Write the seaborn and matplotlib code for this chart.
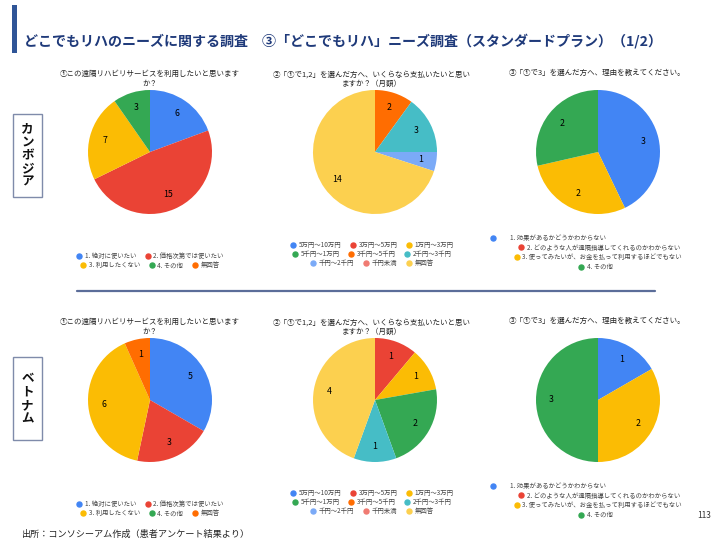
import matplotlib
matplotlib.use("Agg")
import matplotlib.pyplot as plt
from matplotlib.lines import Line2D
from matplotlib.patches import Rectangle
import seaborn as sns

sns.set_theme(style="white")
plt.rcParams['font.family'] = ['Noto Sans CJK JP', 'DejaVu Sans']

# ---- data ----
q1_labels = ["1. 絶対に使いたい", "2. 価格次第では使いたい", "3. 利用したくない", "4. その他", "無回答"]
q1_colors = ["#4285F4", "#EA4335", "#FBBC04", "#34A853", "#FF6D01"]
cambodia_q1 = [6, 15, 7, 3, 0]
vietnam_q1 = [5, 3, 6, 0, 1]

q2_labels = ["5万円～10万円", "3万円～5万円", "1万円～3万円", "5千円～1万円", "3千円～5千円",
             "2千円～3千円", "千円～2千円", "千円未満", "無回答"]
q2_colors = ["#4285F4", "#EA4335", "#FBBC04", "#34A853", "#FF6D01",
             "#46BDC6", "#7BAAF7", "#F07B72", "#FCD04F"]
cambodia_q2 = [0, 0, 0, 0, 2, 3, 1, 0, 14]
vietnam_q2 = [0, 1, 1, 2, 0, 1, 0, 0, 4]

q3_labels = ["1. 効果があるかどうかわからない", "2. どのような人が遠隔指導してくれるのかわからない",
             "3. 使ってみたいが、お金を払って利用するほどでもない", "4. その他"]
q3_colors = ["#4285F4", "#EA4335", "#FBBC04", "#34A853"]
cambodia_q3 = [3, 0, 2, 2]
vietnam_q3 = [1, 0, 2, 3]

q1_title = "①この遠隔リハビリサービスを利用したいと思います\nか？"
q2_title = "②「①で1,2」を選んだ方へ、いくらなら支払いたいと思い\nますか？（月額）"
q3_title = "③「①で3」を選んだ方へ、理由を教えてください。"

main_title = "どこでもリハのニーズに関する調査　③「どこでもリハ」ニーズ調査（スタンダードプラン）（1/2）"
source_text = "出所：コンソシーアム作成（患者アンケート結果より）"

W, H = 720, 540
fig = plt.figure(figsize=(7.2, 5.4), dpi=100)


def fx(px):
    return px / W


def fy(py):
    return 1 - py / H


def draw_pie(values, colors, cx, cy, r=62):
    ax = fig.add_axes([fx(cx - r), fy(cy + r), 2 * r / W, 2 * r / H])
    total = sum(values)

    def fmt(pct):
        n = int(round(pct * total / 100))
        return str(n) if n > 0 else ""

    ax.pie(values, colors=colors, startangle=90, counterclock=False, radius=1,
           autopct=fmt, pctdistance=0.75, wedgeprops=dict(linewidth=0),
           textprops=dict(fontsize=6.3, color="black"))
    ax.set_xlim(-1, 1)
    ax.set_ylim(-1, 1)
    ax.set_aspect("equal")
    ax.axis("off")


def legend_row(labels, colors, cx, cy, pad=0.5):
    handles = [Line2D([], [], marker="o", linestyle="", markersize=3.6,
                      markerfacecolor=c, markeredgecolor=c) for c in colors]
    fig.legend(handles, labels, loc="center", bbox_to_anchor=(fx(cx), fy(cy)),
               ncol=len(labels), frameon=False, fontsize=4.6, handlelength=0.8,
               handletextpad=pad, columnspacing=1.4, borderpad=0, borderaxespad=0,
               labelcolor="#444444")


def chart_title(text, cx, cy):
    fig.text(fx(cx), fy(cy), text, ha="center", va="center", fontsize=5.4,
             color="#222222", linespacing=1.25)


def country(pie_y, legend_y1, legend_y2, legend_y3, q1, q2, q3):
    chart_title(q1_title, 150, pie_y - 73)
    chart_title(q2_title, 372, pie_y - 73)
    chart_title(q3_title, 597, pie_y - 79)

    draw_pie(q1, q1_colors, 150, pie_y)
    draw_pie(q2, q2_colors, 375, pie_y)
    draw_pie(q3, q3_colors, 598, pie_y)

    # legend for ①
    legend_row(q1_labels[:2], q1_colors[:2], 150, legend_y1)
    legend_row(q1_labels[2:], q1_colors[2:], 150, legend_y1 + 9.5)
    # legend for ②
    for i in range(3):
        legend_row(q2_labels[3 * i:3 * i + 3], q2_colors[3 * i:3 * i + 3], 372, legend_y2 + 9.2 * i)
    # legend for ③
    legend_row(q3_labels[:1], q3_colors[:1], 548, legend_y3, pad=2.2)
    legend_row(q3_labels[1:2], q3_colors[1:2], 599, legend_y3 + 9.7)
    legend_row(q3_labels[2:3], q3_colors[2:3], 598, legend_y3 + 19.4)
    legend_row(q3_labels[3:], q3_colors[3:], 596, legend_y3 + 29.1)


country(152, 256, 245, 238, cambodia_q1, cambodia_q2, cambodia_q3)
country(400, 504, 493, 486, vietnam_q1, vietnam_q2, vietnam_q3)

# slide decorations
fig.add_artist(Rectangle((fx(12), fy(53)), 5 / W, 48 / H, transform=fig.transFigure,
                         facecolor="#2F5597", edgecolor="none"))
fig.text(fx(24), fy(41), main_title, ha="left", va="center", fontsize=10.1,
         fontweight="bold", color="#1F3A7A")

fig.add_artist(Line2D([fx(77), fx(655)], [fy(291), fy(291)], transform=fig.transFigure,
                      color="#5B6D99", linewidth=1.6))

for name, y0, y1 in [("カンボジア", 114, 197), ("ベトナム", 357, 440)]:
    fig.add_artist(Rectangle((fx(13), fy(y1)), 29 / W, (y1 - y0) / H, transform=fig.transFigure,
                             facecolor="white", edgecolor="#7F8BAA", linewidth=1))
    fig.text(fx(27.5), fy((y0 + y1) / 2), "\n".join(name), ha="center", va="center",
             fontsize=9, fontweight="bold", color="#111111", linespacing=1.05)

fig.text(fx(22), fy(534), source_text, ha="left", va="center", fontsize=6.6, color="#222222")
fig.text(fx(711), fy(515), "113", ha="right", va="center", fontsize=6, color="#333333")

fig.savefig("out.png", dpi=100)
